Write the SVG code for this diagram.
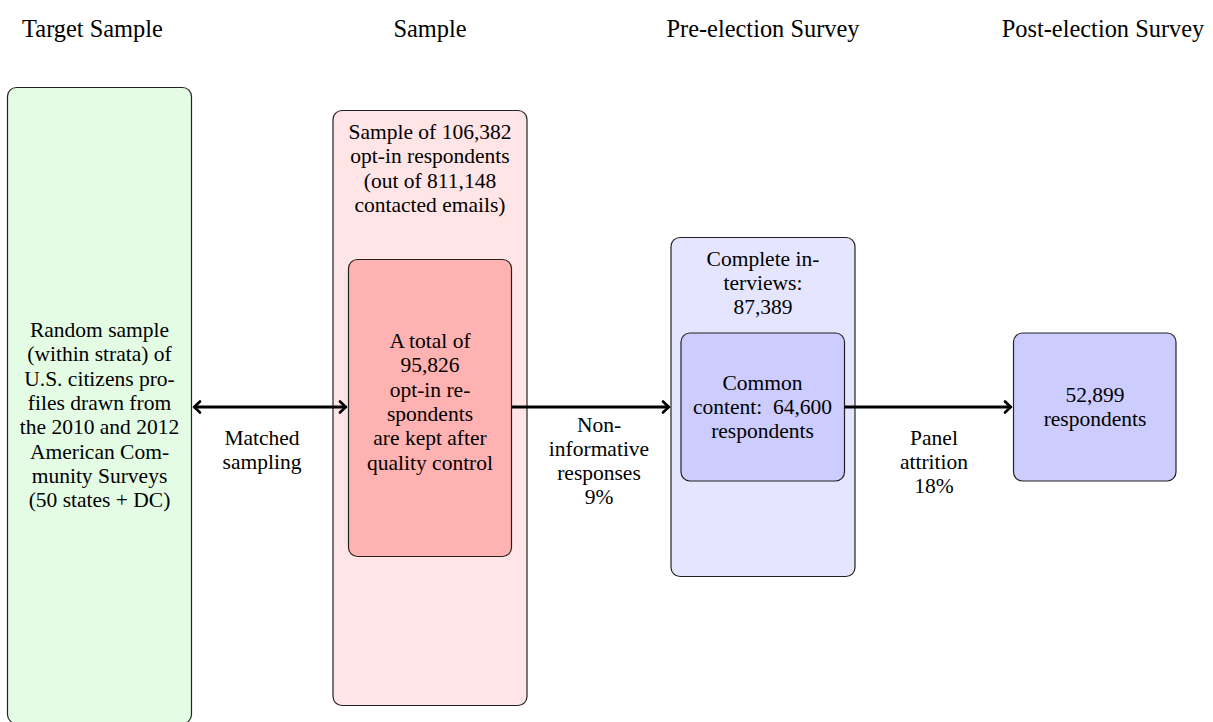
<svg xmlns="http://www.w3.org/2000/svg" width="1213" height="722" viewBox="0 0 1213 722">
<defs>
<style>
text{font-family:"Liberation Serif","Times New Roman",serif;fill:#000;text-anchor:middle}
.h{font-size:24.4px}
.t{font-size:21.5px}
.box{stroke:#222;stroke-width:1.2}
.g{fill:#e4fce4}
.p{fill:#ffe5e5}
.r{fill:#ffb2b2}
.b{fill:#e5e5ff}
.bb{fill:#ccccff}
.c{stroke:#000;stroke-width:3;fill:none}
</style>
<marker id="ah" viewBox="-8 -7 10 14" markerWidth="10" markerHeight="14" refX="0" refY="0" orient="auto-start-reverse" markerUnits="userSpaceOnUse">
<path d="M-6,-5.5 Q-2,-1.5 0,0 Q-2,1.5 -6,5.5" fill="none" stroke="#000" stroke-width="2.6" stroke-linecap="round" stroke-linejoin="round"/>
</marker>
</defs>
<g id="headers">
<text class="h" x="92.5" y="37">Target Sample</text>
<text class="h" x="430" y="37">Sample</text>
<text class="h" x="763" y="37">Pre-election Survey</text>
<text class="h" x="1103" y="37">Post-election Survey</text>
</g>
<g id="target">
<rect class="box g" x="7.5" y="87.5" width="184" height="636" rx="9"/>
<text class="t" x="99.5"><tspan x="99.5" y="337">Random sample</tspan><tspan x="99.5" y="361.3">(within strata) of</tspan><tspan x="99.5" y="385.6">U.S. citizens pro-</tspan><tspan x="99.5" y="409.9">files drawn from</tspan><tspan x="99.5" y="434.2">the 2010 and 2012</tspan><tspan x="99.5" y="458.5">American Com-</tspan><tspan x="99.5" y="482.8">munity Surveys</tspan><tspan x="99.5" y="507.1">(50 states + DC)</tspan></text>
</g>
<g id="sample">
<rect class="box p" x="333" y="110.5" width="194" height="595" rx="9"/>
<text class="t"><tspan x="430" y="139">Sample of 106,382</tspan><tspan x="430" y="163.3">opt-in respondents</tspan><tspan x="430" y="187.6">(out of 811,148</tspan><tspan x="430" y="211.9">contacted emails)</tspan></text>
</g>
<g id="kept">
<rect class="box r" x="348.5" y="259.5" width="163" height="297" rx="9"/>
<text class="t"><tspan x="430" y="348">A total of</tspan><tspan x="430" y="372.3">95,826</tspan><tspan x="430" y="396.6">opt-in re-</tspan><tspan x="430" y="420.9">spondents</tspan><tspan x="430" y="445.2">are kept after</tspan><tspan x="430" y="469.5">quality control</tspan></text>
</g>
<g id="pre">
<rect class="box b" x="671" y="237.5" width="184" height="339" rx="9"/>
<text class="t"><tspan x="763" y="265.5">Complete in-</tspan><tspan x="763" y="289.8">terviews:</tspan><tspan x="763" y="314.1">87,389</tspan></text>
</g>
<g id="common">
<rect class="box bb" x="681" y="333" width="163.5" height="148" rx="9"/>
<text class="t"><tspan x="762.5" y="389.5">Common</tspan><tspan x="762.5" y="413.8">content:&#160; 64,600</tspan><tspan x="762.5" y="438.1">respondents</tspan></text>
</g>
<g id="post">
<rect class="box bb" x="1013.5" y="333" width="162.5" height="148" rx="9"/>
<text class="t"><tspan x="1095" y="401.5">52,899</tspan><tspan x="1095" y="425.8">respondents</tspan></text>
</g>
<g id="connectors">
<line class="c" x1="194" y1="407" x2="346" y2="407" marker-start="url(#ah)" marker-end="url(#ah)"/>
<line class="c" x1="512" y1="407" x2="669" y2="407" marker-end="url(#ah)"/>
<line class="c" x1="844.5" y1="407" x2="1011" y2="407" marker-end="url(#ah)"/>
<text class="t"><tspan x="262" y="444.5">Matched</tspan><tspan x="262" y="468.8">sampling</tspan></text>
<text class="t"><tspan x="599" y="431.5">Non-</tspan><tspan x="599" y="455.8">informative</tspan><tspan x="599" y="480.1">responses</tspan><tspan x="599" y="504.4">9%</tspan></text>
<text class="t"><tspan x="934" y="444.5">Panel</tspan><tspan x="934" y="468.8">attrition</tspan><tspan x="934" y="493.1">18%</tspan></text>
</g>
</svg>
